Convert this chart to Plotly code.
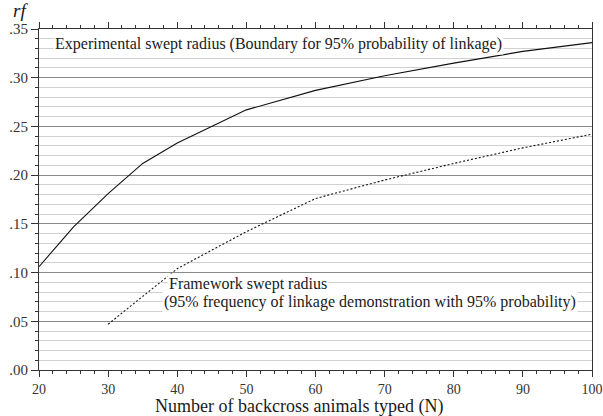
import plotly.graph_objects as go

# Data
n_exp = [20, 25, 30, 35, 40, 50, 60, 70, 80, 90, 100]
rf_exp = [0.106, 0.147, 0.181, 0.212, 0.233, 0.267, 0.287, 0.302, 0.315, 0.327, 0.336]

n_fw = [30, 40, 50, 60, 70, 80, 90, 100]
rf_fw = [0.047, 0.104, 0.142, 0.176, 0.195, 0.212, 0.228, 0.242]

y_tickvals = [0.0, 0.05, 0.10, 0.15, 0.20, 0.25, 0.30, 0.35]
y_ticktext = [".00", ".05", ".10", ".15", ".20", ".25", ".30", ".35"]
x_tickvals = [20, 30, 40, 50, 60, 70, 80, 90, 100]

label_exp = "Experimental swept radius (Boundary for 95% probability of linkage)"
label_fw1 = "Framework swept radius"
label_fw2 = "(95% frequency of linkage demonstration with 95% probability)"
x_title = "Number of backcross animals typed (N)"

FONT = "Liberation Serif, Times New Roman, serif"
TXT = "#1a1a1a"
AX = "#333333"

fig = go.Figure()
fig.add_trace(go.Scatter(x=n_exp, y=rf_exp, mode="lines",
                         line=dict(color="#111111", width=1.1), showlegend=False))
fig.add_trace(go.Scatter(x=n_fw, y=rf_fw, mode="lines",
                         line=dict(color="#111111", width=1.1, dash="2px,2px"), showlegend=False))
# invisible trace for top axis ticks
fig.add_trace(go.Scatter(x=[20, 100], y=[0, 0], mode="lines", xaxis="x2",
                         line=dict(width=0), hoverinfo="skip", showlegend=False))

fig.update_layout(
    width=603, height=416,
    margin=dict(l=39, r=11, t=29, b=46),
    paper_bgcolor="white", plot_bgcolor="white",
    font=dict(family=FONT, color=TXT, size=14),
    xaxis=dict(
        range=[20, 100], tickvals=x_tickvals, showgrid=False, zeroline=False,
        automargin=False, ticklabeloverflow="allow",
        showline=True, linecolor=AX, linewidth=1,
        ticks="outside", ticklen=6, tickcolor=AX, tickwidth=1,
        minor=dict(dtick=2, ticks="outside", ticklen=3, tickcolor=AX, showgrid=False),
        tickfont=dict(family=FONT, size=14, color="#333333"),
    ),
    xaxis2=dict(
        range=[20, 100], overlaying="x", side="top", tickvals=x_tickvals,
        showticklabels=False, showgrid=False, zeroline=False, automargin=False,
        showline=True, linecolor=AX, linewidth=1,
        ticks="outside", ticklen=6, tickcolor=AX,
        minor=dict(dtick=2, ticks="outside", ticklen=3, tickcolor=AX, showgrid=False),
        anchor="y",
    ),
    yaxis=dict(
        range=[0, 0.35], tickvals=y_tickvals, ticktext=y_ticktext,
        showgrid=True, gridcolor="#8a8a8a", gridwidth=1, zeroline=False,
        automargin=False, ticklabeloverflow="allow",
        showline=True, linecolor=AX, linewidth=1, mirror=True,
        ticks="outside", ticklen=7, tickcolor=AX,
        minor=dict(dtick=0.01, tick0=0, ticks="outside", ticklen=3, tickcolor=AX,
                   showgrid=True, gridcolor="#d0d0d0", gridwidth=1),
        tickfont=dict(family=FONT, size=15, color="#333333"),
    ),
    annotations=[
        dict(text="<i>rf</i>", xref="paper", yref="paper", x=-0.034, y=1.0,
             xanchor="center", yanchor="bottom", yshift=6, showarrow=False,
             font=dict(family=FONT, size=19, color=TXT)),
        dict(text=x_title, xref="paper", yref="paper", x=0.47, y=0,
             xanchor="center", yanchor="top", yshift=-24, showarrow=False,
             font=dict(family=FONT, size=18, color=TXT)),
        dict(text=label_exp, xref="x", yref="y", x=22.0, y=0.3345,
             xanchor="left", yanchor="middle", showarrow=False,
             bgcolor="white", borderpad=1, font=dict(family=FONT, size=16, color=TXT)),
        dict(text=label_fw2, xref="x", yref="y", x=37.8, y=0.0698,
             xanchor="left", yanchor="middle", showarrow=False,
             bgcolor="white", borderpad=1, font=dict(family=FONT, size=16, color=TXT)),
        dict(text=label_fw1, xref="x", yref="y", x=38.5, y=0.0885,
             xanchor="left", yanchor="middle", showarrow=False,
             bgcolor="white", borderpad=1, font=dict(family=FONT, size=16, color=TXT)),
    ],
)

fig.write_html("out.html")
